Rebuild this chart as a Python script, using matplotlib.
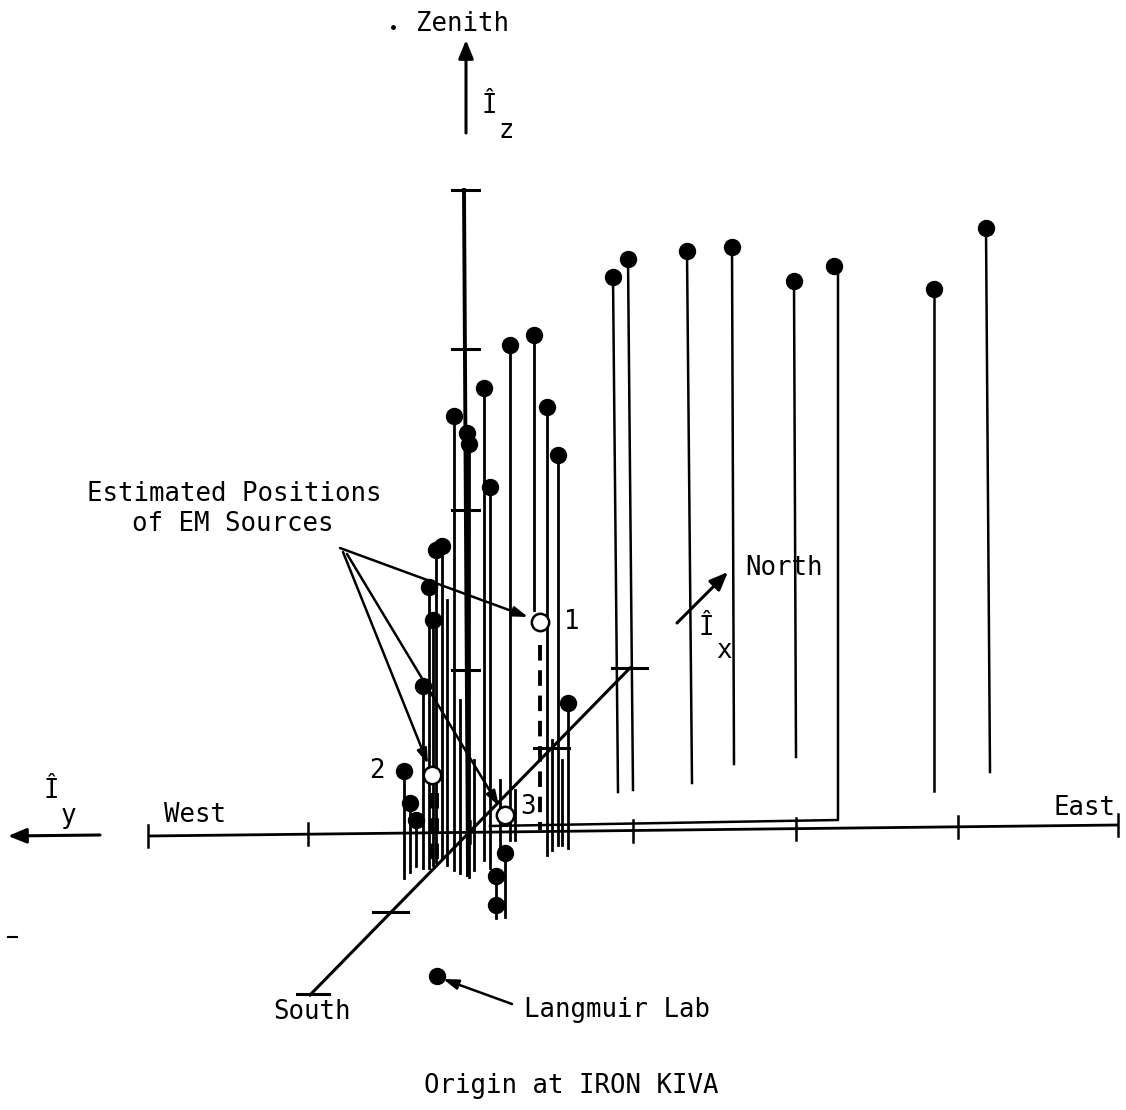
import matplotlib
matplotlib.use("Agg")
import matplotlib.pyplot as plt

# ---- data (drawing coordinates, image-like: x right, y down) ----
# tall stems on the east side (dot at top)
tall_x_top = [613, 628, 687, 732, 794, 934, 986]
tall_x_bot = [618, 633, 692, 734, 796, 934, 990]
tall_top = [277, 259, 251, 247, 281, 289, 228]
tall_bot = [792, 790, 783, 764, 757, 791, 772]

# stem that bends back toward the origin
bent_x = [834, 838, 838, 490]
bent_y = [266, 270, 820, 826]

# central cluster of stems (dot at top)
mid_x = [454, 467, 469, 484, 490, 510, 534, 547, 558, 436, 442, 429, 433, 423, 568, 404, 410, 416]
mid_top = [416, 433, 444, 388, 487, 345, 335, 407, 455, 550, 546, 587, 620, 686, 703, 771, 803, 820]
mid_bot = [870, 875, 877, 860, 868, 840, 610, 855, 845, 862, 858, 868, 865, 868, 848, 878, 872, 866]

# points below the horizontal plane (stem hangs down from dot)
low_x = [505, 496, 496]
low_top = [853, 876, 905]
low_bot = [917, 905, 918]

# extra bare vertical lines in the dense cluster
bare_x = [447, 460, 474, 500, 515, 552, 562]
bare_top = [600, 700, 760, 780, 790, 740, 760]
bare_bot = [865, 873, 870, 855, 840, 850, 845]

# estimated EM source positions (open circles) and their labels
src_x = [540, 432, 505]
src_y = [622, 775, 815]
src_lab = ["1", "2", "3"]
src_lab_x = [572, 377, 528]
src_lab_y = [622, 771, 807]

# dashed drops under sources
dash_x = [540, 431, 437]
dash_top = [645, 793, 793]
dash_bot = [830, 860, 860]

# axis tick positions
ew_ticks = [148, 308, 470, 633, 796, 958, 1118]
z_ticks = [190, 349, 510, 670]
ns_ticks_x = [391, 552, 630]
ns_ticks_y = [912, 748, 668]

W, H = 1126, 1110
fig = plt.figure(figsize=(W / 100, H / 100), dpi=100)
ax = fig.add_axes([0, 0, 1, 1])
ax.set_xlim(0, W)
ax.set_ylim(H, 0)
ax.axis("off")

K = "black"
FONT = dict(family="DejaVu Sans Mono", fontsize=18.5, color=K)
MS = 11.5

# ---- axes ----
def ew_y(x):
    return 836 + (825 - 836) * (x - 148) / (1118 - 148)

ax.plot([148, 1118], [ew_y(148), ew_y(1118)], color=K, lw=2.0, solid_capstyle="butt")
for tx in ew_ticks:
    yy = ew_y(tx)
    ax.plot([tx, tx], [yy - 11, yy + 11], color=K, lw=1.8)

# Zenith axis
ax.plot([464, 468], [190, 875], color=K, lw=2.8)
for ty in z_ticks:
    ax.plot([452, 479], [ty, ty], color=K, lw=2.2)

# North-South axis
ax.plot([310, 630], [995, 668], color=K, lw=2.2)
ax.plot([297, 329], [994, 994], color=K, lw=2.2)
for tx, ty in zip(ns_ticks_x, ns_ticks_y):
    ax.plot([tx - 18, tx + 17], [ty, ty], color=K, lw=2.2)

# ---- stems ----
for xt, xb, t, b in zip(tall_x_top, tall_x_bot, tall_top, tall_bot):
    ax.plot([xt, xb], [t, b], color=K, lw=1.8, zorder=2)
    ax.plot([xt], [t], "o", color=K, ms=MS, zorder=3)

ax.plot(bent_x, bent_y, color=K, lw=1.8)
ax.plot([bent_x[0]], [bent_y[0]], "o", color=K, ms=MS, zorder=3)

for x, t, b in zip(mid_x, mid_top, mid_bot):
    ax.plot([x, x], [t, b], color=K, lw=2.0, zorder=2)
    ax.plot([x], [t], "o", color=K, ms=MS, zorder=3)

for x, t, b in zip(low_x, low_top, low_bot):
    ax.plot([x, x], [t, b], color=K, lw=2.0, zorder=2)
    ax.plot([x], [t], "o", color=K, ms=MS, zorder=3)

for x, t, b in zip(bare_x, bare_top, bare_bot):
    ax.plot([x, x], [t, b], color=K, lw=2.0, zorder=2)

for x, t, b in zip(dash_x, dash_top, dash_bot):
    ax.plot([x, x], [t, b], color=K, lw=2.8, ls=(0, (4, 2.5)), zorder=2)

# ---- EM sources ----
for x, y, lab, lx, ly in zip(src_x, src_y, src_lab, src_lab_x, src_lab_y):
    ax.plot([x], [y], "o", mfc="white", mec=K, mew=1.8, ms=12.5, zorder=5)
    ax.text(lx, ly, lab, ha="center", va="center", **FONT)

ax.text(234, 494, "Estimated Positions", ha="center", va="center", **FONT)
ax.text(233, 524, "of EM Sources", ha="center", va="center", **FONT)

ap = dict(arrowstyle="-|>,head_length=0.9,head_width=0.3", color=K, lw=1.8,
          shrinkA=0, shrinkB=0)
ax.annotate("", xy=(528, 617), xytext=(340, 548), arrowprops=ap)
ax.annotate("", xy=(428, 764), xytext=(343, 552), arrowprops=ap)
ax.annotate("", xy=(499, 806), xytext=(347, 554), arrowprops=ap)

# ---- direction arrows & labels ----
big = dict(arrowstyle="-|>,head_length=1.1,head_width=0.45", color=K, lw=2.2,
           shrinkA=0, shrinkB=0)
ax.annotate("", xy=(466, 40), xytext=(466, 133), arrowprops=big)
ax.annotate("", xy=(8, 836), xytext=(100, 835), arrowprops=big)
ax.annotate("", xy=(728, 572), xytext=(677, 623), arrowprops=big)

ax.text(463, 24, "Zenith", ha="center", va="center", **FONT)
ax.plot([393], [27], "o", color=K, ms=2.5)
ax.text(489, 106, "Î", ha="center", va="center", **FONT)
ax.text(506, 131, "z", ha="center", va="center", **FONT)
ax.text(706, 628, "Î", ha="center", va="center", **FONT)
ax.text(724, 651, "x", ha="center", va="center", **FONT)
ax.text(51, 791, "Î", ha="center", va="center", **FONT)
ax.text(68, 816, "y", ha="center", va="center", **FONT)

ax.text(784, 568, "North", ha="center", va="center", **FONT)
ax.text(195, 815, "West", ha="center", va="center", **FONT)
ax.text(1085, 808, "East", ha="center", va="center", **FONT)
ax.text(312, 1012, "South", ha="center", va="center", **FONT)

ax.plot([437], [976], "o", color=K, ms=MS)
ax.annotate("", xy=(443, 979), xytext=(512, 1004), arrowprops=ap)
ax.text(617, 1010, "Langmuir Lab", ha="center", va="center", **FONT)

ax.text(571, 1086, "Origin at IRON KIVA", ha="center", va="center", **FONT)
ax.plot([8, 17], [937, 937], color=K, lw=1.5)

fig.savefig("out.png", dpi=100, facecolor="white")
